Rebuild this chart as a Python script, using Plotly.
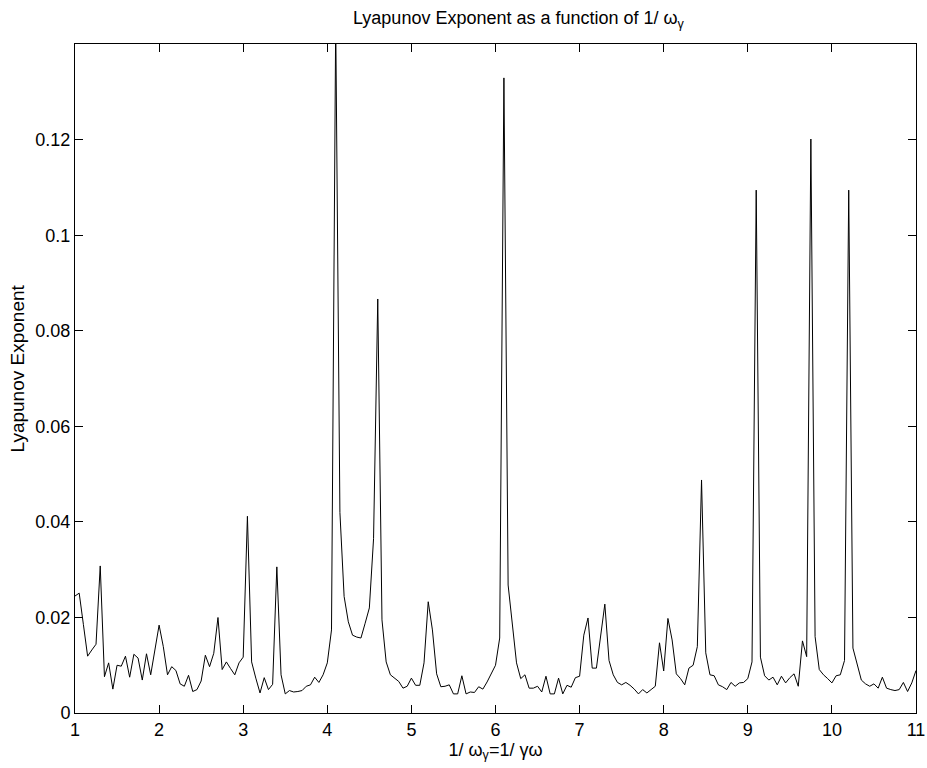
import numpy as np
import plotly.graph_objects as go

# x grid from 1 to 11 in steps of 0.05
x_start = 1.0
x_step = 0.05

lyap = [
    0.0245, 0.0251, 0.0185, 0.0119, 0.0132, 0.0144, 0.0308, 0.0076, 0.0105, 0.0050,  # 1.00-1.45
    0.0100, 0.0098, 0.0119, 0.0075, 0.0123, 0.0115, 0.0069, 0.0124, 0.0080, 0.0130,  # 1.50-1.95
    0.0184, 0.0139, 0.0080, 0.0097, 0.0089, 0.0061, 0.0056, 0.0079, 0.0045, 0.0049,  # 2.00-2.45
    0.0067, 0.0121, 0.0097, 0.0125, 0.0200, 0.0091, 0.0107, 0.0093, 0.0080, 0.0105,  # 2.50-2.95
    0.0117, 0.0412, 0.0107, 0.0073, 0.0042, 0.0074, 0.0049, 0.0060, 0.0306, 0.0080,  # 3.00-3.45
    0.0040, 0.0047, 0.0044, 0.0045, 0.0047, 0.0056, 0.0059, 0.0075, 0.0064, 0.0080,  # 3.50-3.95
    0.0105, 0.0174, 0.1450, 0.0420, 0.0244, 0.0191, 0.0163, 0.0159, 0.0157, 0.0188,  # 4.00-4.45
    0.0220, 0.0365, 0.0867, 0.0195, 0.0107, 0.0080, 0.0073, 0.0066, 0.0052, 0.0056,  # 4.50-4.95
    0.0073, 0.0058, 0.0058, 0.0105, 0.0233, 0.0174, 0.0082, 0.0055, 0.0056, 0.0059,  # 5.00-5.45
    0.0040, 0.0040, 0.0078, 0.0040, 0.0044, 0.0043, 0.0055, 0.0050, 0.0065, 0.0083,  # 5.50-5.95
    0.0100, 0.0157, 0.1330, 0.0268, 0.0188, 0.0105, 0.0072, 0.0080, 0.0052, 0.0052,  # 6.00-6.45
    0.0056, 0.0044, 0.0077, 0.0040, 0.0040, 0.0073, 0.0040, 0.0058, 0.0054, 0.0074,  # 6.50-6.95
    0.0077, 0.0163, 0.0199, 0.0094, 0.0094, 0.0160, 0.0228, 0.0110, 0.0080, 0.0064,  # 7.00-7.45
    0.0059, 0.0064, 0.0058, 0.0050, 0.0040, 0.0049, 0.0042, 0.0049, 0.0056, 0.0147,  # 7.50-7.95
    0.0088, 0.0198, 0.0153, 0.0082, 0.0072, 0.0059, 0.0094, 0.0100, 0.0139, 0.0488,  # 8.00-8.45
    0.0126, 0.0080, 0.0078, 0.0059, 0.0055, 0.0049, 0.0064, 0.0056, 0.0063, 0.0064,  # 8.50-8.95
    0.0072, 0.0107, 0.1095, 0.0117, 0.0078, 0.0069, 0.0075, 0.0059, 0.0077, 0.0063,  # 9.00-9.45
    0.0074, 0.0082, 0.0056, 0.0151, 0.0118, 0.1202, 0.0160, 0.0091, 0.0080, 0.0072,  # 9.50-9.95
    0.0063, 0.0078, 0.0080, 0.0110, 0.1095, 0.0136, 0.0100, 0.0069, 0.0061, 0.0056,  # 10.00-10.45
    0.0061, 0.0052, 0.0075, 0.0052, 0.0049, 0.0047, 0.0049, 0.0064, 0.0045, 0.0063,  # 10.50-10.95
    0.0089,                                                                            # 11.00
]

x_vals = [round(x_start + i * x_step, 2) for i in range(len(lyap))]

x_ticks = [1, 2, 3, 4, 5, 6, 7, 8, 9, 10, 11]
y_ticks = [0, 0.02, 0.04, 0.06, 0.08, 0.1, 0.12]
y_tick_labels = ["0", "0.02", "0.04", "0.06", "0.08", "0.1", "0.12"]

title_text = "Lyapunov Exponent as a function of 1/ ω<sub>γ</sub>"
x_label = "1/ ω<sub>γ</sub>=1/ γω"
y_label = "Lyapunov Exponent"

FONT = "Liberation Sans, Arial, Helvetica, sans-serif"

fig = go.Figure()
fig.add_trace(go.Scatter(
    x=x_vals, y=lyap, mode="lines",
    line=dict(color="black", width=1),
    showlegend=False, hoverinfo="x+y",
))

fig.update_layout(
    width=927, height=768,
    autosize=False,
    margin=dict(l=75, r=11, t=44, b=55, autoexpand=False),
    paper_bgcolor="white", plot_bgcolor="white",
    font=dict(family=FONT, size=18, color="black"),
    title=dict(text=title_text, x=353 / 927, xanchor="left", xref="container",
               y=1 - 18 / 768, yanchor="middle",
               font=dict(family=FONT, size=18, color="black")),
    annotations=[dict(
        text=y_label, textangle=-90, xref="paper", yref="paper",
        x=(17 - 75) / 841, y=0.515, xanchor="center", yanchor="middle",
        showarrow=False, font=dict(family=FONT, size=19, color="black"),
    )],
)
fig.update_xaxes(
    range=[1, 11], tickvals=x_ticks, ticktext=[str(t) for t in x_ticks],
    ticks="inside", ticklen=8, tickcolor="black", tickwidth=1,
    showline=True, linecolor="black", linewidth=1, mirror="ticks",
    showgrid=False, zeroline=False, automargin=False,
    title=dict(text=x_label, standoff=0, font=dict(family=FONT, size=18)),
    tickfont=dict(family=FONT, size=18),
)
fig.update_yaxes(
    range=[0, 0.1401], tickvals=y_ticks, ticktext=y_tick_labels,
    ticks="inside", ticklen=8, tickcolor="black", tickwidth=1,
    showline=True, linecolor="black", linewidth=1, mirror="ticks",
    showgrid=False, zeroline=False, automargin=False,
    tickfont=dict(family=FONT, size=18),
)

fig.write_html("out.html")
